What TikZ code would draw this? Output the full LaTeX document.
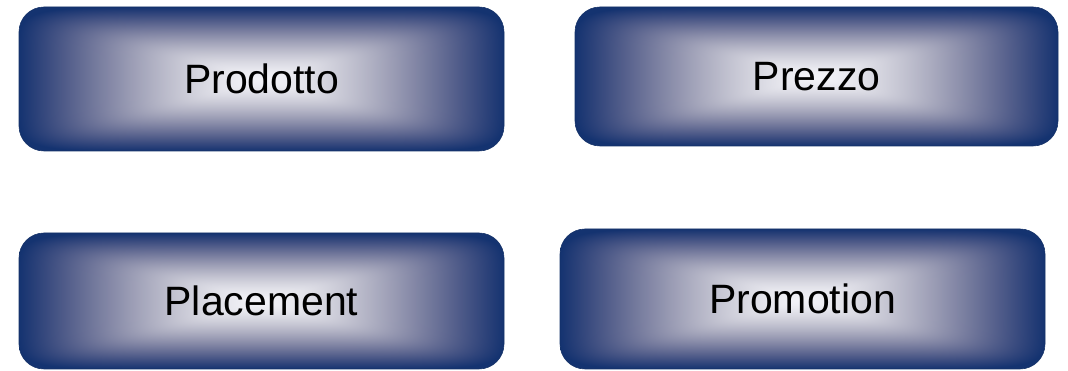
\documentclass[tikz,border=0pt]{standalone}
\usepackage{fontspec}
\setmainfont{Liberation Sans}
\usepackage{xcolor}
\usepackage{tikz}
\usetikzlibrary{positioning}

\definecolor{navyedge}{RGB}{20,50,104}

%% rectangular gradient: light centre, navy rim
\pgfdeclarefunctionalshading{navybox}{\pgfpoint{-50bp}{-50bp}}{\pgfpoint{50bp}{50bp}}{}{
  25 div dup mul dup mul dup mul exch 25 div dup mul dup mul dup mul add
  sqrt sqrt sqrt
  dup 1 gt {pop 1} if
  dup sqrt mul
  dup 0.87 mul 0.95 exch sub exch
  dup dup dup mul mul 0.12 mul 2 index add exch
  dup dup mul 0.22 mul exch 0.12 mul add 0.02 add 2 index add
}

\tikzset{
  mixbox/.style={rectangle, rounded corners=25pt, shade, shading=navybox,
    draw=navyedge, line width=0.6pt, inner sep=0pt,
    font=\fontsize{41}{48}\selectfont, text=black},
}

\begin{document}
\begin{tikzpicture}[x=1pt, y=1pt]
  \useasboundingbox (0,0) rectangle (1068,371);

  %% top row
  \node[mixbox, minimum width=485pt, minimum height=144pt] (prodotto) at (261.5,292) {Prodotto};
  \node[mixbox, minimum width=483pt, minimum height=139pt] (prezzo) at (816.5,294.5) {Prezzo};

  %% bottom row
  \node[mixbox, minimum width=485pt, minimum height=136pt] (placement) at (261.5,70) {Placement};
  \node[mixbox, minimum width=485pt, minimum height=140pt] (promotion) at (802.5,72) {Promotion};
\end{tikzpicture}
\end{document}
